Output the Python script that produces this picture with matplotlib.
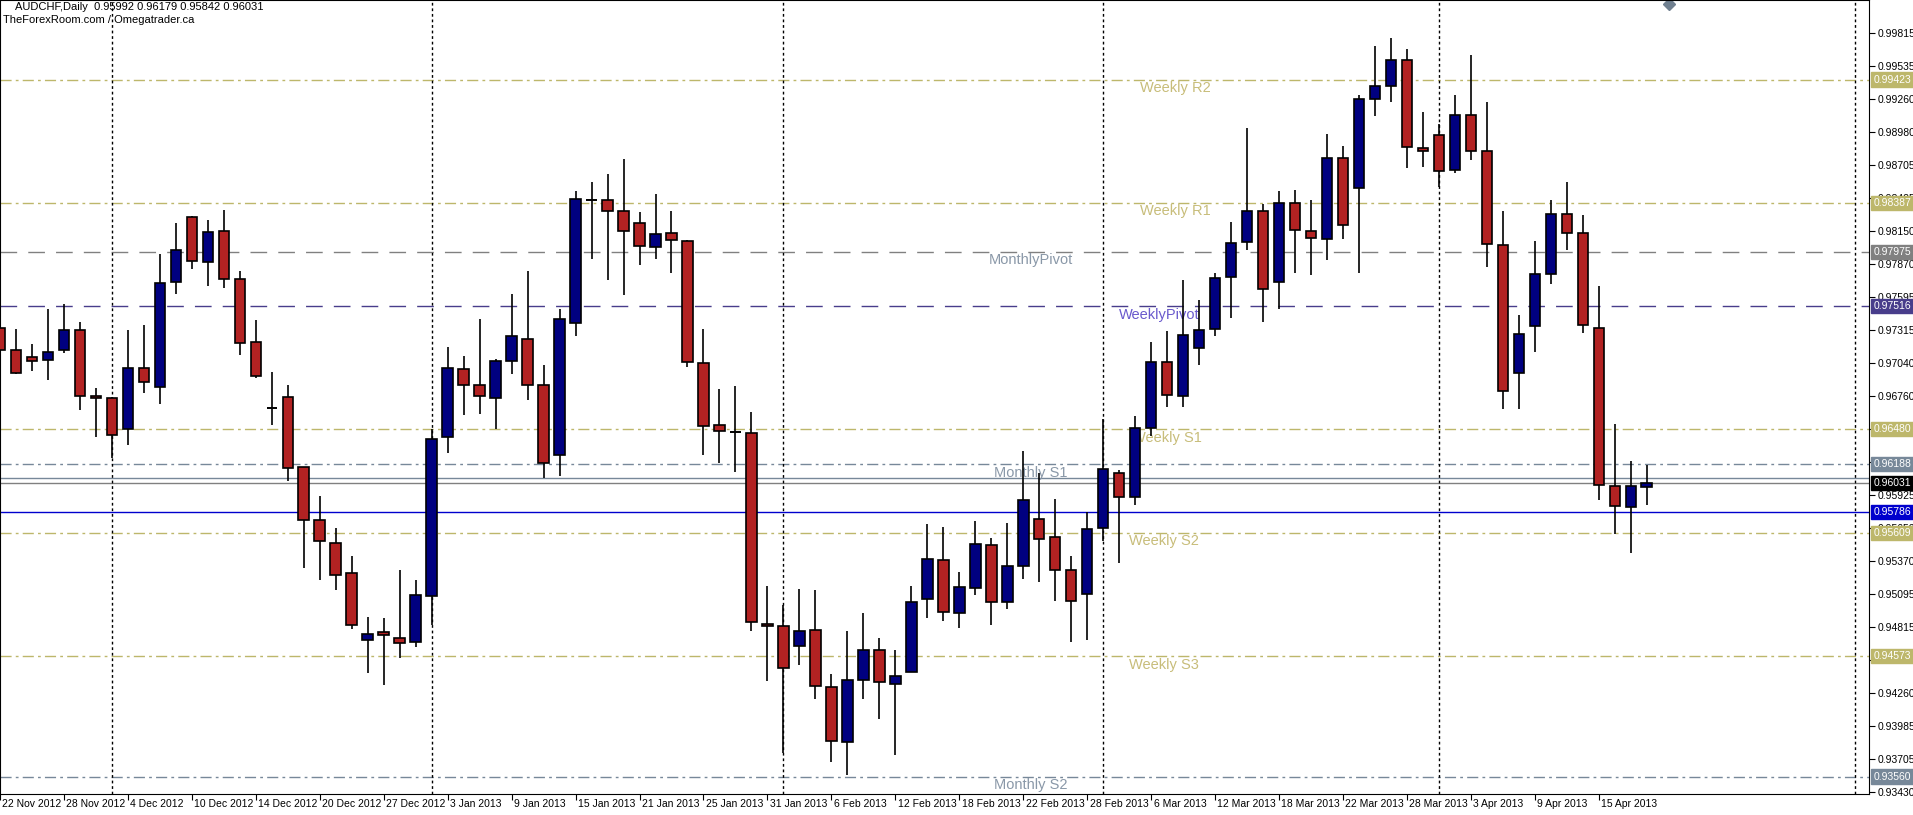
import matplotlib
matplotlib.use("Agg")
import matplotlib.pyplot as plt
from matplotlib.patches import Rectangle

plt.rcParams['font.family'] = ['Liberation Sans', 'DejaVu Sans']

opens = [0.97329,0.97146,0.97093,0.97063,0.97146,0.97312,0.96761,0.96748,0.96480,0.96993,
         0.96839,0.97722,0.98264,0.97884,0.98147,0.97749,0.97211,0.96664,0.96756,0.96162,
         0.95716,0.95528,0.95270,0.94710,0.94772,0.94723,0.94693,0.95082,0.96415,0.96984,
         0.96857,0.96748,0.97058,0.97237,0.96857,0.96262,0.97377,0.98413,0.98409,0.98321,
         0.98212,0.98015,0.98133,0.98068,0.97036,0.96520,0.96459,0.96450,0.94842,0.94824,
         0.94658,0.94789,0.94317,0.93853,0.94373,0.94627,0.94338,0.94439,0.95056,0.95379,
         0.94933,0.95148,0.95510,0.95030,0.95331,0.95729,0.95572,0.95300,0.95095,0.95650,
         0.96109,0.95912,0.96489,0.97045,0.96761,0.97167,0.97325,0.97762,0.98055,0.98313,
         0.97722,0.98387,0.98151,0.98081,0.98767,0.98509,0.99261,0.99371,0.99589,0.98846,
         0.98960,0.98662,0.99121,0.98824,0.98028,0.96953,0.97351,0.97788,0.98295,0.98129,
         0.97329,0.96004,0.95829,0.95992]
highs = [0.97360,0.97325,0.97198,0.97495,0.97535,0.97382,0.96831,0.96750,0.97316,0.97360,
         0.97954,0.98217,0.98273,0.98243,0.98326,0.97810,0.97399,0.96962,0.96857,0.96162,
         0.95921,0.95650,0.95414,0.94903,0.94894,0.95296,0.95213,0.96480,0.97172,0.97097,
         0.97408,0.97075,0.97617,0.97814,0.97019,0.97495,0.98488,0.98562,0.98627,0.98754,
         0.98308,0.98461,0.98317,0.98077,0.97325,0.96822,0.96844,0.96625,0.95165,0.94999,
         0.95139,0.95130,0.94426,0.94785,0.94933,0.94727,0.94623,0.95161,0.95685,0.95663,
         0.95283,0.95711,0.95567,0.95694,0.96297,0.96113,0.95895,0.95414,0.95786,0.96568,
         0.96135,0.96594,0.97215,0.97307,0.97736,0.97570,0.97797,0.98225,0.99016,0.98378,
         0.98488,0.98492,0.98409,0.98964,0.98863,0.99292,0.99703,0.99773,0.99681,0.99148,
         0.99047,0.99292,0.99633,0.99235,0.98317,0.97443,0.98063,0.98409,0.98562,0.98282,
         0.97687,0.96529,0.96214,0.96179]
lows = [0.97119,0.96950,0.96975,0.96892,0.97119,0.96646,0.96419,0.96236,0.96345,0.96783,
        0.96690,0.97622,0.97832,0.97683,0.97666,0.97102,0.96909,0.96520,0.96043,0.95318,
        0.95209,0.95126,0.94802,0.94435,0.94330,0.94557,0.94649,0.94837,0.96284,0.96599,
        0.96612,0.96480,0.96944,0.96730,0.96070,0.96087,0.97264,0.97910,0.97740,0.97609,
        0.97867,0.97910,0.97792,0.97005,0.96262,0.96197,0.96118,0.94780,0.94365,0.93761,
        0.94500,0.94211,0.93683,0.93569,0.94211,0.94041,0.93743,0.94439,0.94894,0.94867,
        0.94811,0.95086,0.94837,0.94968,0.95222,0.95196,0.95034,0.94693,0.94710,0.95537,
        0.95357,0.95842,0.96428,0.96669,0.96669,0.97019,0.97268,0.97416,0.97985,0.97382,
        0.97495,0.97792,0.97775,0.97906,0.98085,0.97797,0.99117,0.99231,0.98680,0.98689,
        0.98518,0.98636,0.98745,0.97845,0.96651,0.96651,0.97132,0.97705,0.97985,0.97290,
        0.95886,0.95602,0.95440,0.95842]
closes = [0.97150,0.96953,0.97054,0.97128,0.97320,0.96761,0.96740,0.96432,0.96993,0.96879,
          0.97714,0.97985,0.97897,0.98138,0.97749,0.97207,0.96931,0.96664,0.96157,0.95720,
          0.95541,0.95257,0.94837,0.94763,0.94750,0.94684,0.95091,0.96402,0.96993,0.96852,
          0.96761,0.97054,0.97264,0.96857,0.96197,0.97412,0.98422,0.98413,0.98317,0.98151,
          0.98024,0.98120,0.98072,0.97049,0.96507,0.96463,0.96459,0.94859,0.94824,0.94474,
          0.94780,0.94321,0.93857,0.94369,0.94627,0.94356,0.94408,0.95025,0.95392,0.94946,
          0.95152,0.95519,0.95030,0.95327,0.95882,0.95559,0.95296,0.95038,0.95641,0.96144,
          0.95912,0.96489,0.97049,0.96769,0.97277,0.97312,0.97757,0.98050,0.98321,0.97661,
          0.98387,0.98160,0.98090,0.98767,0.98199,0.99257,0.99366,0.99589,0.98855,0.98820,
          0.98654,0.99121,0.98824,0.98042,0.96804,0.97285,0.97784,0.98295,0.98133,0.97360,
          0.96013,0.95838,0.96004,0.96031]

date_labels = ["22 Nov 2012","28 Nov 2012","4 Dec 2012","10 Dec 2012","14 Dec 2012","20 Dec 2012",
               "27 Dec 2012","3 Jan 2013","9 Jan 2013","15 Jan 2013","21 Jan 2013","25 Jan 2013",
               "31 Jan 2013","6 Feb 2013","12 Feb 2013","18 Feb 2013","22 Feb 2013","28 Feb 2013",
               "6 Mar 2013","12 Mar 2013","18 Mar 2013","22 Mar 2013","28 Mar 2013","3 Apr 2013",
               "9 Apr 2013","15 Apr 2013"]
label_step = 4
month_breaks = [7, 27, 49, 69, 90, 116]

y_ticks = [0.99815,0.99535,0.99260,0.98980,0.98705,0.98425,0.98150,0.97870,0.97595,0.97315,
           0.97040,0.96760,0.96480,0.96205,0.95925,0.95650,0.95370,0.95095,0.94815,0.94540,
           0.94260,0.93985,0.93705,0.93430]

khaki = "#bdb76b"
levels = [
    (0.99423, "Weekly R2", khaki, (0, (8, 3, 2, 3))),
    (0.98387, "Weekly R1", khaki, (0, (8, 3, 2, 3))),
    (0.97975, "MonthlyPivot", "#808080", (0, (12, 8))),
    (0.97516, "WeeklyPivot", "#483d8b", (0, (12, 8))),
    (0.96480, "Weekly S1", khaki, (0, (8, 3, 2, 3))),
    (0.96188, "Monthly S1", "#778899", (0, (8, 3, 2, 3))),
    (0.95609, "Weekly S2", khaki, (0, (8, 3, 2, 3))),
    (0.94573, "Weekly S3", khaki, (0, (8, 3, 2, 3))),
    (0.93560, "Monthly S2", "#778899", (0, (8, 3, 2, 3))),
]
label_x = {"Weekly R2": 73.5, "Weekly R1": 73.5, "MonthlyPivot": 64.5, "WeeklyPivot": 72.5,
           "Weekly S1": 73.0, "Monthly S1": 64.5, "Weekly S2": 72.8, "Weekly S3": 72.8,
           "Monthly S2": 64.5}
bid = 0.96031
ask_line = 0.96070
blue_line = 0.95786

W, H = 1913, 815
fig = plt.figure(figsize=(W/100, H/100), dpi=100)
ax = fig.add_axes([0, 21/H, 1869/W, 794/H])
ax.set_xlim(0.06, 116.9)
ax.set_ylim(0.93413, 1.00092)

for v, name, col, ls in levels:
    ax.axhline(v, color=col, lw=1, ls=ls, zorder=1)
    tc = "#c8bd7a" if col == khaki else ("#6a5acd" if col == "#483d8b" else "#8a98a8")
    ax.text(label_x[name], v - 0.00012, name, color=tc, fontsize=10.5, ha="center", va="top", zorder=2)
ax.axhline(ask_line, color="#778899", lw=1, zorder=1)
ax.axhline(bid, color="#808080", lw=1, zorder=1)
ax.axhline(blue_line, color="#0000cd", lw=1, zorder=1)
for b in month_breaks:
    ax.axvline(b, color="black", lw=1, ls=(0, (2, 2)), zorder=1)

for i, (o, h, l, c) in enumerate(zip(opens, highs, lows, closes)):
    col = "#000080" if c > o else "#b22222"
    ax.vlines(i, l, h, color="black", lw=1.2, zorder=3)
    bh = abs(c - o)
    if bh < 0.00004:
        ax.hlines(o, i - 0.33, i + 0.33, color="black", lw=1.4, zorder=4)
    else:
        ax.add_patch(Rectangle((i - 0.33, min(o, c)), 0.66, bh, facecolor=col,
                               edgecolor="black", lw=1.2, zorder=4))

ax.yaxis.tick_right()
ax.set_yticks(y_ticks)
ax.set_yticklabels([f"{t:.5f}" for t in y_ticks], fontsize=7.5)
ax.tick_params(axis="y", length=4, pad=2)
ax.set_xticks([i * label_step for i in range(len(date_labels))])
ax.set_xticklabels([])
ax.tick_params(axis="x", length=4)
for k, d in enumerate(date_labels):
    ax.text(k * label_step + 0.15, -0.006, d, transform=ax.get_xaxis_transform(),
            fontsize=7.5, ha="left", va="top")

boxes = [(0.99423, khaki), (0.98387, khaki), (0.97975, "#808080"),
         (0.97516, "#483d8b"), (0.96480, khaki), (0.96188, "#778899"),
         (bid, "black"), (blue_line, "#0000cd"), (0.95609, khaki),
         (0.94573, khaki), (0.93560, "#778899")]
for v, fc in boxes:
    ax.text(1.0023, v, f"{v:.5f}", transform=ax.get_yaxis_transform(), fontsize=7.5,
            color="white", va="center", ha="left", zorder=6,
            bbox=dict(boxstyle="square,pad=0.2", facecolor=fc, edgecolor=fc))

ax.plot([104.4], [1.0006], marker="D", color="#708090", ms=6, clip_on=False)
fig.text(15/W, 1 - 7/H, "AUDCHF,Daily  0.95992 0.96179 0.95842 0.96031", fontsize=8, va="center")
fig.text(3/W, 1 - 20/H, "TheForexRoom.com / Omegatrader.ca", fontsize=8, va="center")
fig.savefig("out.png", dpi=100)
